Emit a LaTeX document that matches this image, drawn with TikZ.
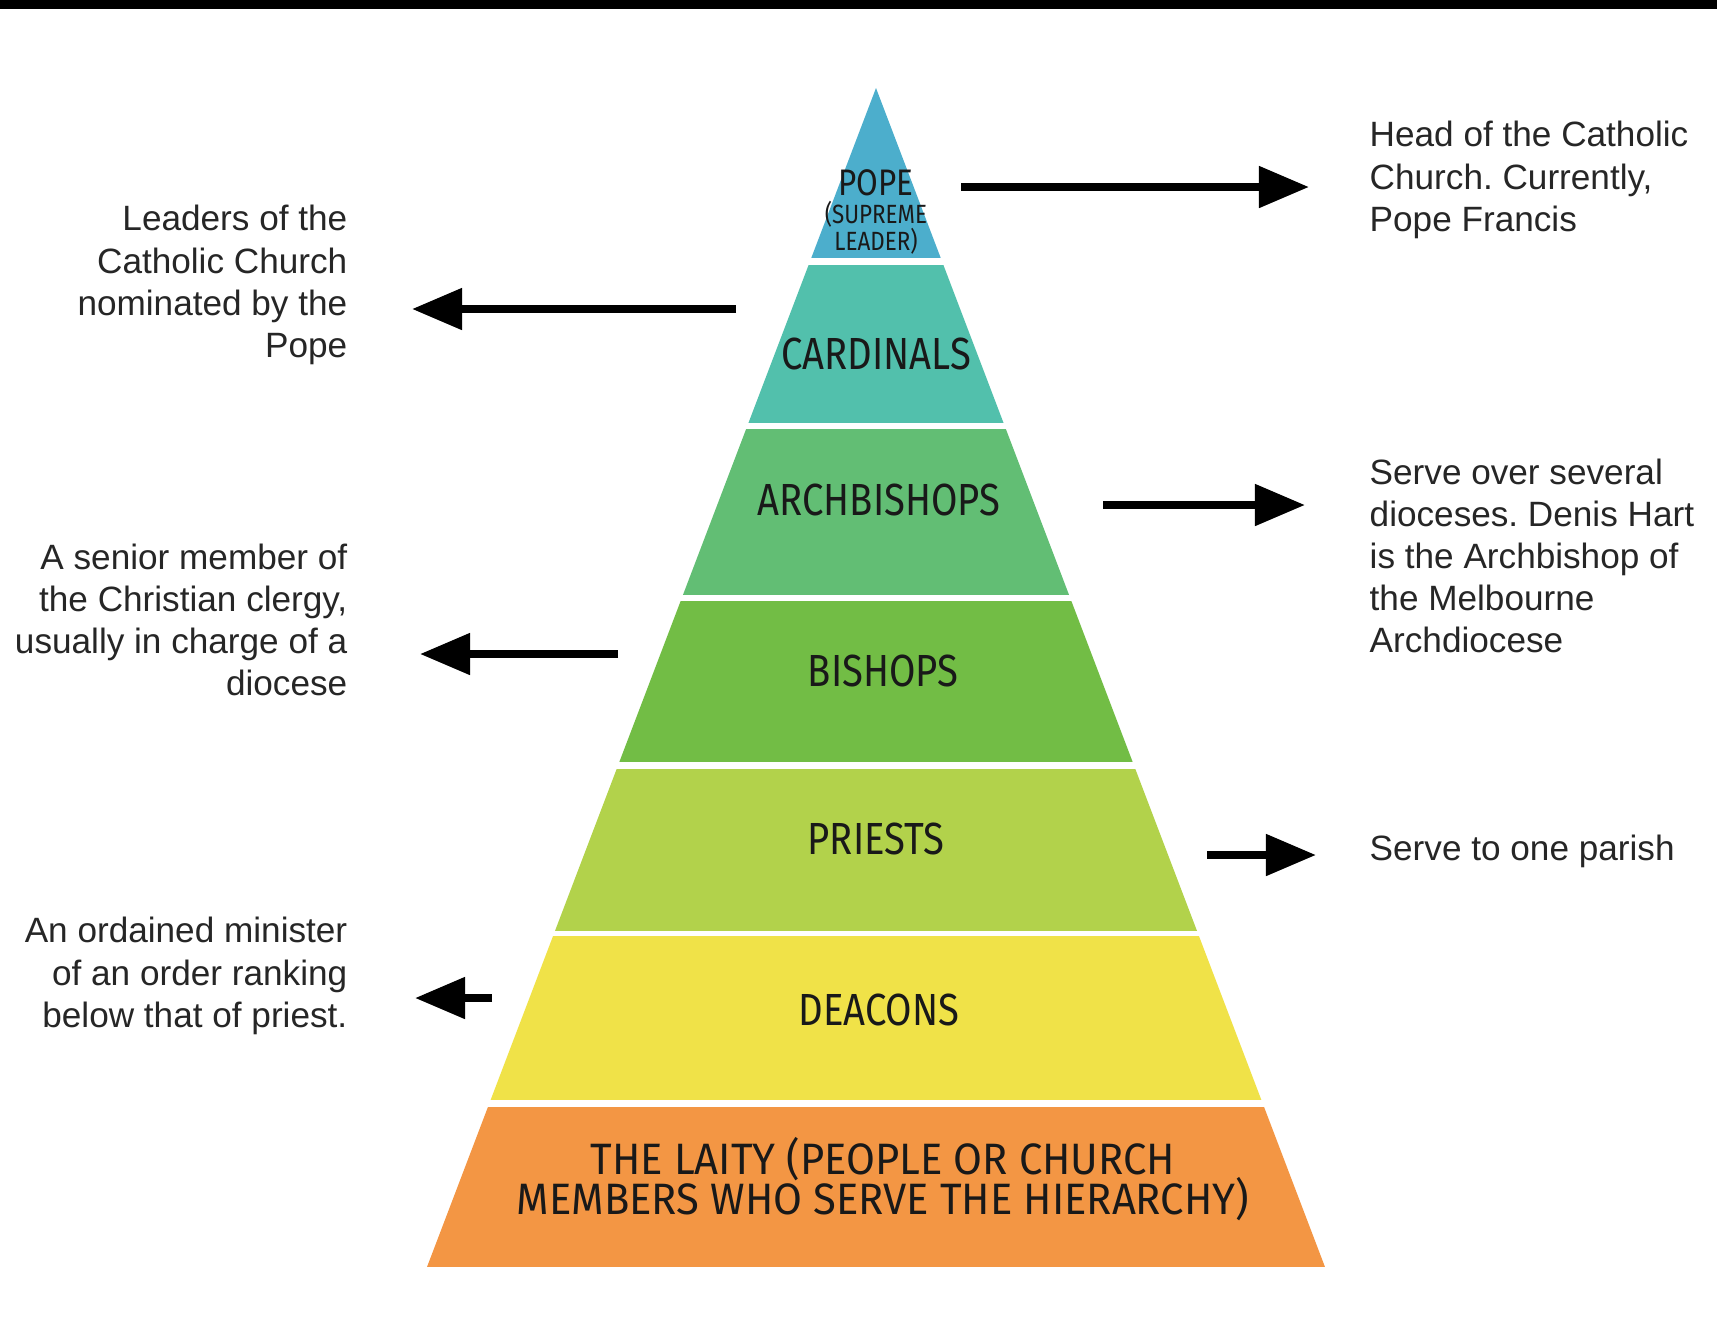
\documentclass[tikz,border=0pt]{standalone}
\usepackage{fontspec}
\setmainfont{Liberation Sans}
\newfontfamily\handfont[FakeStretch=0.85]{Fira Sans}
\newfontfamily\handwide[FakeStretch=0.95]{Fira Sans}
\usetikzlibrary{arrows.meta}
\definecolor{cpope}{HTML}{4CAECC}
\definecolor{ccard}{HTML}{52C0AC}
\definecolor{carch}{HTML}{62BE74}
\definecolor{cbish}{HTML}{72BD45}
\definecolor{cpri}{HTML}{B2D24B}
\definecolor{cdea}{HTML}{F0E248}
\definecolor{clai}{HTML}{F39644}
\frenchspacing

\begin{document}
\begin{tikzpicture}[x=0.01cm,y=-0.01cm,inner sep=0pt,
  note/.style={font=\fontsize{10}{12}\selectfont,text=black!85},
  lbl/.style={font=\handfont\fontsize{12.8}{11}\selectfont,text=black!90,align=center},
  arr/.style={line width=0.08cm,-{Triangle[length=0.5cm,width=0.4cm]}}]
\fill[white] (0,0) rectangle (1717,1326);
\useasboundingbox (0,0) rectangle (1717,1326);
\fill (0,0) rectangle (1717,9);

\begin{scope}
\clip (876,88) -- (1325,1267) -- (427,1267) -- cycle;
\foreach \ya/\yb/\col in {0/258/cpope,265/423/ccard,429/595/carch,601/762/cbish,769/931/cpri,936/1100/cdea,1107/1267/clai}
  \fill[\col] (400,\ya) rectangle (1350,\yb);
\end{scope}

\node[lbl,font=\handfont\fontsize{10.5}{7.7}\selectfont] (pope) at (876,212) {POPE\\{\fontsize{7.5}{7.7}\selectfont(SUPREME}\\{\fontsize{7.5}{7.7}\selectfont LEADER)}};
\node[lbl] (card) at (876,354) {CARDINALS};
\node[lbl] (arch) at (879,500) {ARCHBISHOPS};
\node[lbl] (bish) at (883,671) {BISHOPS};
\node[lbl] (pri) at (876,839) {PRIESTS};
\node[lbl] (dea) at (879,1010) {DEACONS};
\node[lbl,font=\handwide\fontsize{12.5}{10.8}\selectfont] (lai) at (883,1179) {THE LAITY (PEOPLE OR CHURCH\\[-2.2pt]MEMBERS WHO SERVE THE HIERARCHY)};

\node[note,anchor=west,align=left] (n1) at (1369,180) {Head of the Catholic\\Church. Currently,\\Pope Francis};
\node[note,anchor=east,align=right] (n2) at (348,285) {Leaders of the\\Catholic Church\\nominated by the\\Pope};
\node[note,anchor=west,align=left] (n3) at (1369,556) {Serve over several\\dioceses. Denis Hart\\is the Archbishop of\\the Melbourne\\Archdiocese};
\node[note,anchor=east,align=right] (n4) at (348,620) {A senior member of\\the Christian clergy,\\usually in charge of a\\diocese};
\node[note,anchor=west] (n5) at (1369,851) {Serve to one parish};
\node[note,anchor=east,align=right] (n6) at (348,976) {An ordained minister\\of an order ranking\\below that of priest.};

\coordinate (a1) at (961,187);  \coordinate (b1) at (1309,187);
\coordinate (a2) at (736,309);  \coordinate (b2) at (412,309);
\coordinate (a3) at (1103,505); \coordinate (b3) at (1305,505);
\coordinate (a4) at (618,654);  \coordinate (b4) at (420,654);
\coordinate (a5) at (1207,855); \coordinate (b5) at (1316,855);
\coordinate (a6) at (492,998);  \coordinate (b6) at (415,998);

\draw[arr] (a1) -- (b1);
\draw[arr] (a2) -- (b2);
\draw[arr] (a3) -- (b3);
\draw[arr] (a4) -- (b4);
\draw[arr] (a5) -- (b5);
\draw[arr] (a6) -- (b6);
\end{tikzpicture}
\end{document}
